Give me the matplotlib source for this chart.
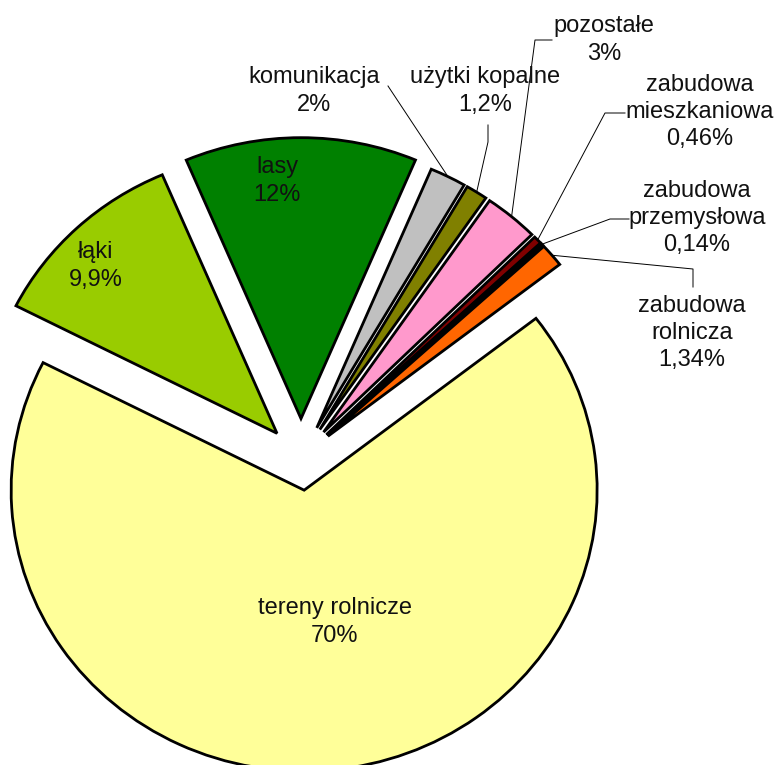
import numpy as np
import matplotlib
matplotlib.use("Agg")
import matplotlib.pyplot as plt

# categories in clockwise drawing order (starting from łąki)
categories = ["łąki", "lasy", "komunikacja", "użytki kopalne", "pozostałe",
              "zabudowa\nmieszkaniowa", "zabudowa\nprzemysłowa",
              "zabudowa\nrolnicza", "tereny rolnicze"]
label_pct = ["9,9%", "12%", "2%", "1,2%", "3%", "0,46%", "0,14%", "1,34%", "70%"]
# slice shares as drawn in the picture
shares = [11.1, 12.8, 2.0, 1.2, 3.0, 0.46, 0.14, 1.34, 68.0]
colors = ["#99CC00", "#008000", "#C0C0C0", "#808000", "#FF99CC",
          "#800000", "#000000", "#FF6600", "#FFFF99"]
explode = [0.12, 0.14, 0.12, 0.12, 0.12, 0.12, 0.12, 0.12, 0.115]

W, H = 778, 765
CX, CY, RX, RY = 301, 458, 293, 281   # pie centre / radii in pixels


def px(x, y):
    # pixel (top-left origin) -> data coords
    return (x - CX) / RX, (CY - y) / RY


fig = plt.figure(figsize=(W / 100, H / 100), dpi=100)
ax = fig.add_axes([0, 0, 1, 1])
wedges, _ = ax.pie(shares, colors=colors, explode=explode, startangle=153.0,
                   counterclock=False,
                   wedgeprops=dict(edgecolor="black", linewidth=2.0))
ax.set_aspect("auto")
ax.set_xlim(px(0, 0)[0], px(W, 0)[0])
ax.set_ylim(px(0, H)[1], px(0, 0)[1])
ax.axis("off")

font = dict(family=["Liberation Sans", "DejaVu Sans"], fontsize=17,
            ha="center", va="center", linespacing=1.32, color="#111111")

# text positions in pixels (layout)
text_pos = [(96, 266), (277, 181), (314, 91), (485, 91), (604, 40),
            (700, 112), (697, 218), (692, 333), (335, 622)]
for name, pct, (tx, ty) in zip(categories, label_pct, text_pos):
    ax.text(*px(tx, ty), name + "\n" + pct, **font)

# leader lines for the small slices: label end + elbow, then wedge outer mid
leaders = {
    2: [(388, 86)],
    3: [(488, 125), (488, 142)],
    4: [(552, 40), (535, 40)],
    5: [(625, 113), (605, 113)],
    6: [(629, 219), (610, 219)],
    7: [(693, 287), (693, 269)],
}
for i, pts in leaders.items():
    w = wedges[i]
    mid = np.deg2rad((w.theta1 + w.theta2) / 2)
    cx, cy = w.center
    end = (cx + w.r * np.cos(mid), cy + w.r * np.sin(mid))
    xs = [px(*p)[0] for p in pts] + [end[0]]
    ys = [px(*p)[1] for p in pts] + [end[1]]
    ax.plot(xs, ys, color="black", linewidth=0.7)

fig.savefig("out.png", dpi=100)
